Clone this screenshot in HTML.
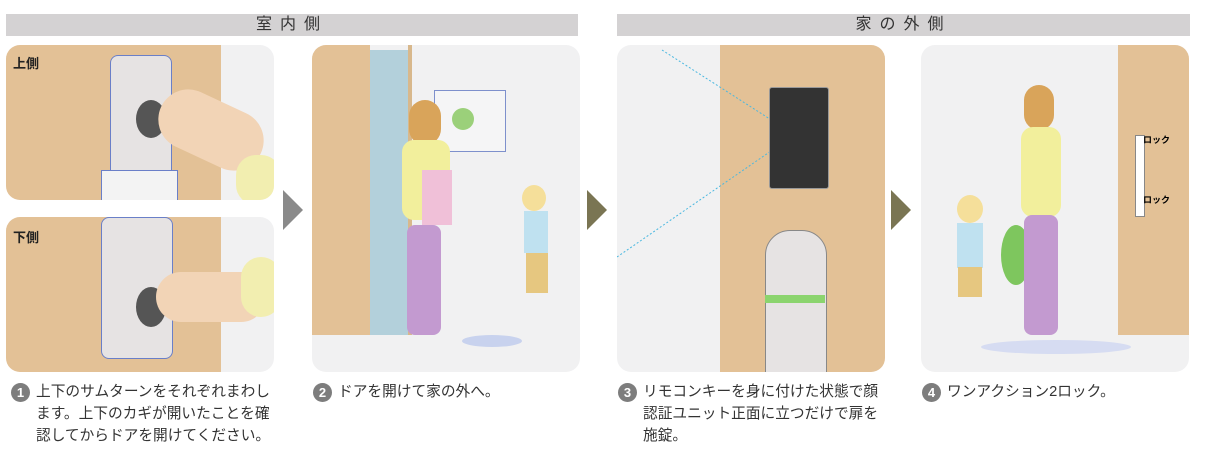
<!DOCTYPE html>
<html><head><meta charset="utf-8"><style>
body{margin:0;width:1225px;height:468px;background:#fff;position:relative;overflow:hidden;font-family:"Liberation Sans","Noto Sans CJK JP",sans-serif;}
.a{position:absolute}
.bar{position:absolute;top:14px;height:22px;background:#d4d2d3;color:#333;font-size:16px;text-align:center;line-height:22px;letter-spacing:8px}
.pn{position:absolute;border-radius:14px;overflow:hidden;background:#f1f1f2}
.cap{position:absolute;top:381px;font-size:14.7px;line-height:22px;color:#333}
.num{display:inline-block;width:19px;height:19px;border-radius:50%;background:#7d7d7d;color:#fff;font-size:13px;font-weight:bold;text-align:center;line-height:19px;position:absolute;left:-25px;top:2px}
.tri{position:absolute;width:0;height:0;border-top:20px solid transparent;border-bottom:20px solid transparent;border-left:20px solid #8a8a8a}
</style></head><body>
<div class="bar" style="left:6px;width:572px">室内側</div>
<div class="bar" style="left:617px;width:573px">家の外側</div>

<div class="pn" style="left:6px;top:45px;width:268px;height:155px">
 <div class="a" style="left:0;top:0;width:215px;height:155px;background:#e3c196"></div>
 <div class="a" style="left:104px;top:10px;width:60px;height:145px;background:#e6e3e3;border:1px solid #6a7fc8;border-radius:8px"></div>
 <div class="a" style="left:130px;top:55px;width:30px;height:38px;background:#555;border-radius:50%"></div>
 <div class="a" style="left:150px;top:55px;width:110px;height:60px;background:#f2d4b6;border-radius:30px;transform:rotate(25deg)"></div>
 <div class="a" style="left:230px;top:110px;width:45px;height:50px;background:#f2eeb0;border-radius:20px"></div>
 <div class="a" style="left:95px;top:125px;width:75px;height:30px;background:#f3f3f3;border:1px solid #6a7fc8"></div>
 <div class="a" style="left:7px;top:8px;font-size:13px;font-weight:bold;color:#222">上側</div>
</div>
<div class="pn" style="left:6px;top:217px;width:268px;height:155px">
 <div class="a" style="left:0;top:0;width:215px;height:155px;background:#e3c196"></div>
 <div class="a" style="left:95px;top:0;width:70px;height:140px;background:#e6e3e3;border:1px solid #6a7fc8;border-radius:8px"></div>
 <div class="a" style="left:130px;top:70px;width:30px;height:40px;background:#555;border-radius:50%"></div>
 <div class="a" style="left:150px;top:55px;width:110px;height:50px;background:#f2d4b6;border-radius:25px"></div>
 <div class="a" style="left:235px;top:40px;width:40px;height:60px;background:#f2eeb0;border-radius:20px"></div>
 <div class="a" style="left:7px;top:10px;font-size:13px;font-weight:bold;color:#222">下側</div>
</div>
<div class="tri" style="left:283px;top:190px"></div>

<div class="pn" style="left:312px;top:45px;width:268px;height:327px">
 <div class="a" style="left:0;top:0;width:58px;height:290px;background:#e3c196"></div>
 <div class="a" style="left:58px;top:5px;width:38px;height:285px;background:#b3d0db"></div>
 <div class="a" style="left:96px;top:0;width:4px;height:290px;background:#d8b88c"></div>
 <div class="a" style="left:122px;top:45px;width:70px;height:60px;border:1px solid #7e90cc;background:#f5f5f6"></div>
 <div class="a" style="left:140px;top:63px;width:22px;height:22px;border-radius:50%;background:#9bd07a"></div>
 <div class="a" style="left:97px;top:55px;width:32px;height:45px;background:#d9a45a;border-radius:16px"></div>
 <div class="a" style="left:90px;top:95px;width:48px;height:80px;background:#f2ef9c;border-radius:12px"></div>
 <div class="a" style="left:110px;top:125px;width:30px;height:55px;background:#f0c0d8"></div>
 <div class="a" style="left:95px;top:180px;width:34px;height:110px;background:#c39ad0;border-radius:8px"></div>
 <div class="a" style="left:210px;top:140px;width:24px;height:26px;background:#f5df9a;border-radius:50%"></div>
 <div class="a" style="left:212px;top:166px;width:24px;height:42px;background:#bfe1f0"></div>
 <div class="a" style="left:214px;top:208px;width:22px;height:40px;background:#e6c780"></div>
 <div class="a" style="left:150px;top:290px;width:60px;height:12px;background:#c8d2ee;border-radius:50%"></div>
</div>
<div class="tri" style="left:587px;top:190px;border-left-color:#7a7553"></div>

<div class="pn" style="left:617px;top:45px;width:268px;height:327px">
 <div class="a" style="left:103px;top:0;width:165px;height:327px;background:#e3c196"></div>
 <svg class="a" style="left:0;top:0" width="268" height="327"><line x1="45" y1="5" x2="170" y2="85" stroke="#4ab8e0" stroke-dasharray="2,2"/><line x1="0" y1="212" x2="170" y2="95" stroke="#4ab8e0" stroke-dasharray="2,2"/></svg>
 <div class="a" style="left:152px;top:42px;width:58px;height:100px;background:#333;border:1px solid #999;border-radius:3px"></div>
 <div class="a" style="left:148px;top:185px;width:60px;height:150px;background:#e6e3e3;border-radius:25px 25px 0 0;border:1px solid #888"></div>
 <div class="a" style="left:148px;top:250px;width:60px;height:8px;background:#8bd46e"></div>
</div>
<div class="tri" style="left:891px;top:190px;border-left-color:#7a7553"></div>

<div class="pn" style="left:921px;top:45px;width:268px;height:327px">
 <div class="a" style="left:197px;top:0;width:71px;height:290px;background:#e3c196"></div>
 <div class="a" style="left:214px;top:90px;width:8px;height:80px;background:#fff;border:1px solid #888"></div>
 <div class="a" style="left:222px;top:88px;font-size:9px;font-weight:bold">ロック</div>
 <div class="a" style="left:222px;top:148px;font-size:9px;font-weight:bold">ロック</div>
 <div class="a" style="left:80px;top:180px;width:30px;height:60px;background:#7ec65e;border-radius:50%"></div>
 <div class="a" style="left:103px;top:40px;width:30px;height:45px;background:#d9a45a;border-radius:15px"></div>
 <div class="a" style="left:100px;top:82px;width:40px;height:90px;background:#f2ef9c;border-radius:12px"></div>
 <div class="a" style="left:103px;top:170px;width:34px;height:120px;background:#c39ad0;border-radius:8px"></div>
 <div class="a" style="left:36px;top:150px;width:26px;height:28px;background:#f5df9a;border-radius:50%"></div>
 <div class="a" style="left:36px;top:178px;width:26px;height:45px;background:#bfe1f0"></div>
 <div class="a" style="left:37px;top:222px;width:24px;height:30px;background:#e6c780"></div>
 <div class="a" style="left:60px;top:295px;width:150px;height:14px;background:#d6dcf2;border-radius:50%"></div>
</div>

<div class="cap" style="left:36px"><span class="num">1</span>上下のサムターンをそれぞれまわし<br>ます。上下のカギが開いたことを確<br>認してからドアを開けてください。</div>
<div class="cap" style="left:338px"><span class="num">2</span>ドアを開けて家の外へ。</div>
<div class="cap" style="left:643px"><span class="num">3</span>リモコンキーを身に付けた状態で顔<br>認証ユニット正面に立つだけで扉を<br>施錠。</div>
<div class="cap" style="left:947px"><span class="num">4</span>ワンアクション2ロック。</div>
</body></html>
